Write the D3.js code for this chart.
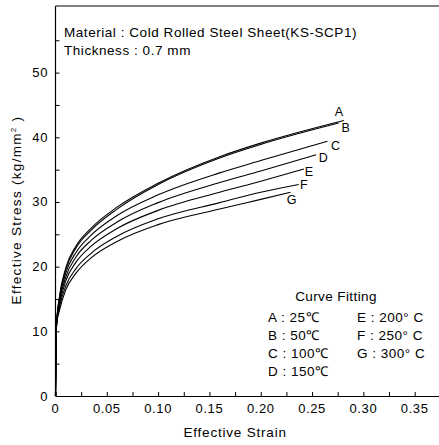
<!DOCTYPE html>
<html><head><meta charset="utf-8">
<script src="https://cdn.jsdelivr.net/npm/d3@7"></script>
<style>
html,body{margin:0;padding:0;background:#fff;}
svg{display:block;font-family:"Liberation Sans",Arial,sans-serif;}
</style></head>
<body><svg id="c" width="439" height="445"></svg>
<script>
// ---- data ----
const strainGrid = [0, 0.001, 0.004, 0.01, 0.02, 0.035, 0.06, 0.1, 0.16, 0.2];
const curveNames = ["A","B","C","D","E","F","G"];
const endStrain = [0.281, 0.276, 0.265, 0.254, 0.242, 0.237, 0.229];
const stressA = [0, 11, 15.5, 19.8, 23.2, 26.0, 29.2, 32.9, 37.0, 39.1, 42.6];
const stressB = [0, 11, 15.3, 19.5, 22.9, 25.7, 28.9, 32.7, 36.8, 38.9, 42.2];
const stressC = [0, 11, 15.0, 19.0, 22.2, 24.9, 27.9, 31.1, 34.5, 36.4, 39.4];
const stressD = [0, 11, 14.6, 18.4, 21.5, 24.1, 26.9, 29.9, 33.0, 34.8, 37.3];
const stressE = [0, 11, 14.2, 17.8, 20.7, 23.2, 25.9, 28.7, 31.5, 33.2, 35.1];
const stressF = [0, 11, 13.8, 17.0, 19.7, 22.1, 24.7, 27.4, 29.9, 31.5, 32.7];
const stressG = [0, 11, 13.3, 16.4, 19.0, 21.4, 23.9, 26.5, 28.9, 30.4, 31.5];
const xTickLabels = ["0","0.05","0.10","0.15","0.20","0.25","0.30","0.35"];
const yTickLabels = ["0","10","20","30","40","50"];
const legendLeft = ["A : 25℃","B : 50℃","C : 100℃","D : 150℃"];
const legendRight = ["E : 200° C","F : 250° C","G : 300° C"];
const noteLines = ["Material : Cold Rolled Steel Sheet(KS-SCP1)","Thickness : 0.7 mm"];

const allStress = [stressA,stressB,stressC,stressD,stressE,stressF,stressG];
const series = curveNames.map((n,i)=>({
  name:n,
  pts: strainGrid.map((s,j)=>[s, allStress[i][j]]).concat([[endStrain[i], allStress[i][strainGrid.length]]])
}));

const svg = d3.select("#c");
const x = d3.scaleLinear().domain([0, 0.3737]).range([55.5, 439]);
const y = d3.scaleLinear().domain([0, 60.3]).range([396, 6]);

// frame
svg.append("line").attr("x1",55.5).attr("x2",439).attr("y1",y(60.3)).attr("y2",y(60.3)).attr("stroke","#000").attr("stroke-width",1);
// axes
const xAxis = d3.axisBottom(x).tickValues(d3.range(0,0.376,0.025)).tickSize(-4).tickFormat("");
svg.append("g").attr("transform","translate(0,396)").call(xAxis)
  .call(g=>{g.select(".domain").attr("stroke-width",1);});
const yAxis = d3.axisLeft(y).tickValues(d3.range(0,60,5)).tickSize(-4).tickFormat("");
svg.append("g").attr("transform","translate(55.5,0)").call(yAxis)
  .call(g=>{g.select(".domain").remove();});
svg.append("line").attr("x1",55.5).attr("x2",55.5).attr("y1",6).attr("y2",396).attr("stroke","#000").attr("stroke-width",1.2);

// tick labels
svg.append("g").selectAll("text").data(xTickLabels).join("text")
  .attr("x",(d,i)=>x(i*0.05)).attr("y",412.5).attr("text-anchor","middle")
  .attr("font-size",13).attr("letter-spacing",0.6).text(d=>d);
svg.append("g").selectAll("text").data(yTickLabels).join("text")
  .attr("x",48).attr("y",(d,i)=>y(i*10)+4.5).attr("text-anchor","end")
  .attr("font-size",13).attr("letter-spacing",0.6).text(d=>d);

// axis titles
svg.append("text").attr("x",x(0.175)).attr("y",437).attr("text-anchor","middle").attr("font-size",13.5).attr("letter-spacing",0.8).text("Effective Strain");
const yt = svg.append("text").attr("transform","translate(21,210) rotate(-90)").attr("text-anchor","middle").attr("font-size",13.5).attr("letter-spacing",1.3);
yt.append("tspan").text("Effective Stress (kg/mm");
yt.append("tspan").attr("font-size",8).attr("dy",-5).text("2");
yt.append("tspan").attr("dy",5).text(" )");

// curves
const line = d3.line().x(d=>x(d[0])).y(d=>y(d[1])).curve(d3.curveMonotoneX);
svg.append("g").selectAll("path").data(series).join("path")
  .attr("d",d=>line(d.pts)).attr("fill","none").attr("stroke","#000").attr("stroke-width",1.1);

// curve labels
const lblOff = {A:[-5,-9],B:[7,4],C:[8,4],D:[7,3],E:[5,3],F:[5,0],G:[1,7]};
svg.append("g").selectAll("text").data(series).join("text")
  .attr("x",d=>{const p=d.pts[d.pts.length-1];return x(p[0])+lblOff[d.name][0];})
  .attr("y",d=>{const p=d.pts[d.pts.length-1];return y(p[1])+lblOff[d.name][1]+4.5;})
  .attr("text-anchor","middle").attr("font-size",12.5).text(d=>d.name);

// notes
svg.append("g").selectAll("text").data(noteLines).join("text")
  .attr("x",64).attr("y",(d,i)=>37+i*18).attr("font-size",13.5).attr("letter-spacing",0.55).text(d=>d);

// legend
svg.append("text").attr("x",336).attr("y",301).attr("text-anchor","middle").attr("font-size",13.5).attr("letter-spacing",0.4).text("Curve Fitting");
svg.append("g").selectAll("text").data(legendLeft).join("text")
  .attr("x",268).attr("y",(d,i)=>321.5+i*18.2).attr("font-size",13.5).attr("letter-spacing",0.5).text(d=>d);
svg.append("g").selectAll("text").data(legendRight).join("text")
  .attr("x",357).attr("y",(d,i)=>321.5+i*18.2).attr("font-size",13.5).attr("letter-spacing",0.5).text(d=>d);
</script></body></html>
